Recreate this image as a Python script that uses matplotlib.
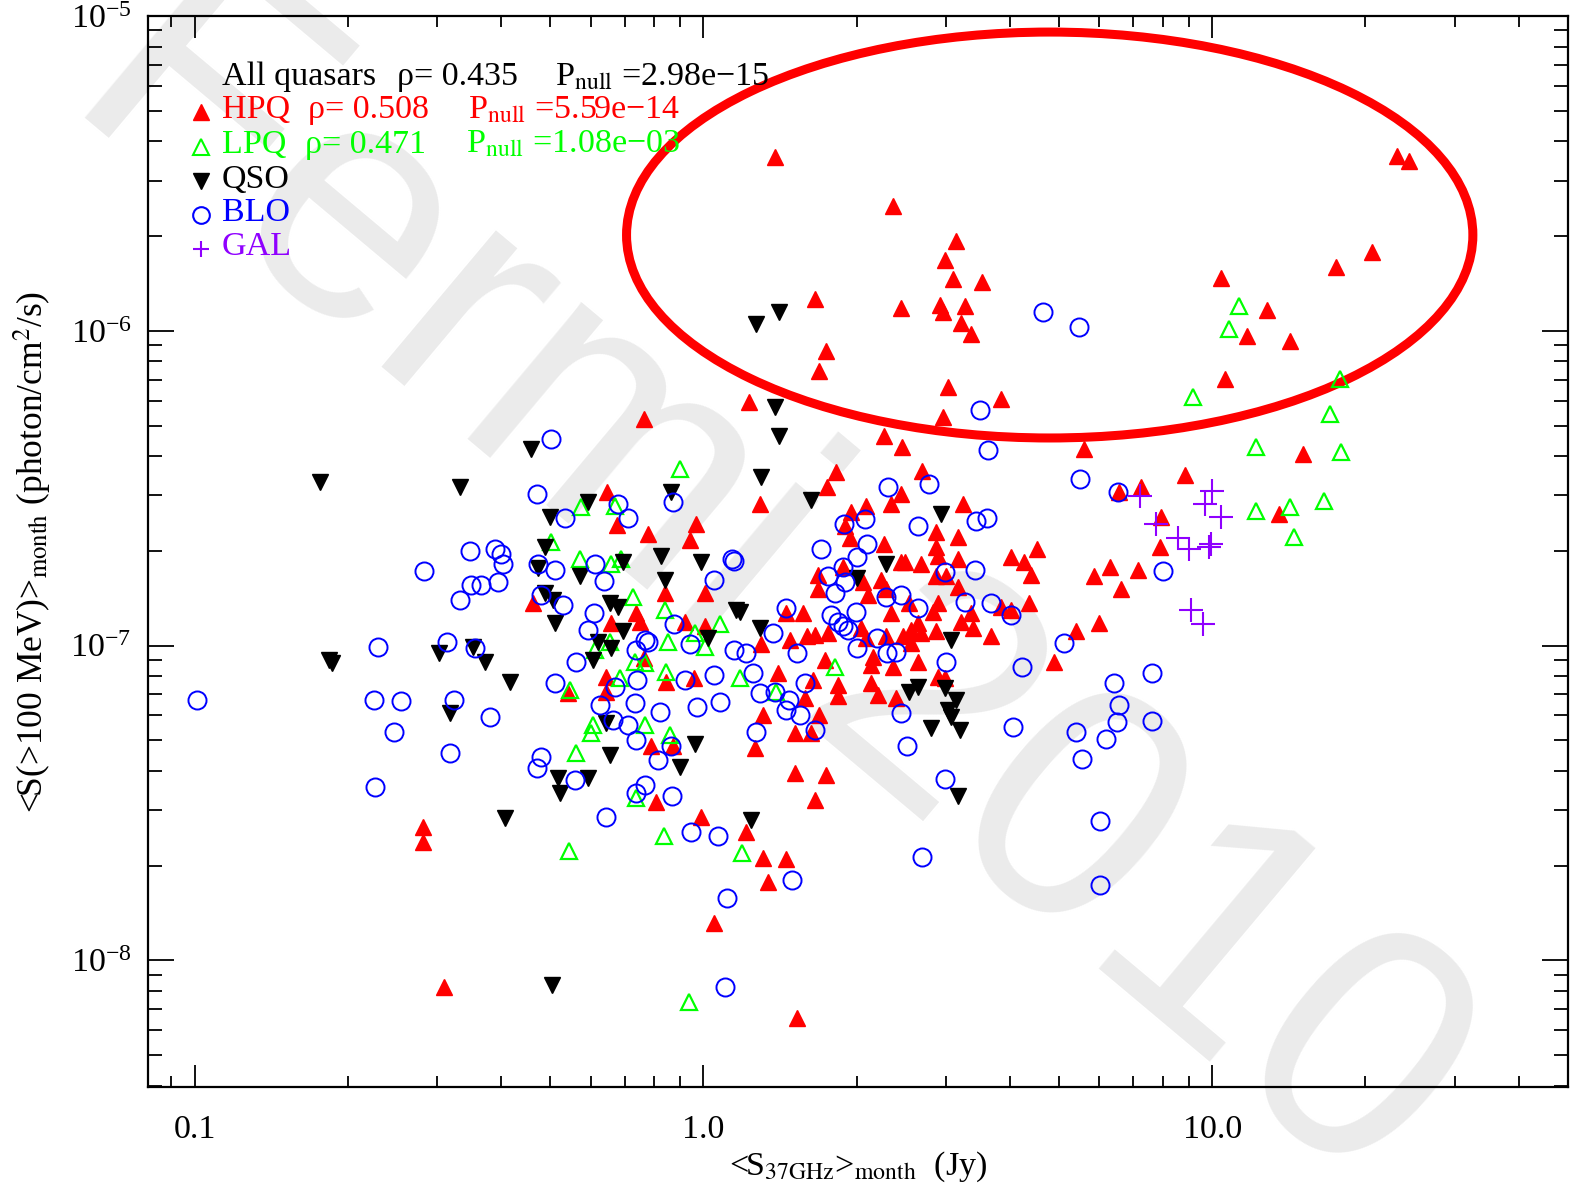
import matplotlib
matplotlib.use("Agg")
import matplotlib.pyplot as plt
from matplotlib.patches import Ellipse
from matplotlib.ticker import FixedLocator, FixedFormatter, LogLocator, NullFormatter

plt.rcParams['font.family'] = ['Liberation Serif', 'DejaVu Serif']
plt.rcParams['mathtext.fontset'] = 'stix'

# 37 GHz monthly flux density (Jy) vs monthly gamma flux >100 MeV (photon/cm^2/s)
hpq_s37 = [1.38, 23.1, 24.4, 2.36, 3.14, 2.98, 3.10, 3.52, 1.66, 2.44,
           2.92, 2.95, 3.26, 3.21, 3.36, 1.74, 1.69, 10.4, 17.5, 20.6,
           12.8, 11.7, 14.2, 10.6, 1.23, 0.763, 2.26, 2.46, 3.85, 2.95,
           3.03, 5.59, 15.1, 8.85, 7.24, 6.56, 7.93, 7.90, 5.85, 6.29,
           7.15, 6.61, 5.99, 13.5,
           1.82, 1.75, 1.29, 2.69, 2.45, 2.34, 3.24, 1.95, 2.09, 1.90,
           1.94, 2.87, 3.17, 2.26, 2.87, 2.89, 2.44, 2.49, 2.68, 3.17,
           4.02, 4.52, 4.26, 4.40, 1.68, 1.68, 1.88, 2.06, 2.11, 2.23,
           2.28, 2.87, 3.00, 3.17, 2.89, 2.83, 2.34, 2.53, 2.64, 2.56,
           2.68, 2.86, 3.21, 3.36, 3.39, 3.68, 4.36, 4.02, 3.84, 1.57,
           1.45, 1.48, 1.30, 1.60, 1.66, 1.76, 2.04, 2.09, 2.28, 2.47,
           2.56, 1.73, 2.15, 2.13, 2.36, 2.64, 1.40, 1.84, 1.84, 2.13,
           2.20, 2.39, 2.89, 2.99, 1.58, 1.64, 1.69, 1.31, 1.51, 1.63,
           4.88, 5.39,
           0.646, 0.676, 0.777, 0.969, 0.939, 0.839, 1.005, 0.463, 0.736, 0.749,
           0.658, 0.918, 1.009, 0.763, 0.643, 0.643, 0.843, 0.960, 0.542, 0.788,
           0.870, 0.806, 0.987,
           0.281, 0.281, 1.21, 1.31, 1.45, 1.34, 1.05, 1.51, 1.74, 1.66,
           1.26, 0.309, 1.53]
hpq_gamma = [3.56e-6, 3.59e-6, 3.46e-6, 2.49e-6, 1.93e-6, 1.68e-6, 1.46e-6, 1.43e-6, 1.26e-6, 1.18e-6,
             1.21e-6, 1.15e-6, 1.20e-6, 1.06e-6, 9.75e-7, 8.61e-7, 7.43e-7, 1.47e-6, 1.59e-6, 1.78e-6,
             1.16e-6, 9.61e-7, 9.26e-7, 7.01e-7, 5.93e-7, 5.23e-7, 4.62e-7, 4.26e-7, 6.06e-7, 5.31e-7,
             6.61e-7, 4.20e-7, 4.05e-7, 3.47e-7, 3.20e-7, 3.07e-7, 2.57e-7, 2.06e-7, 1.66e-7, 1.78e-7,
             1.74e-7, 1.51e-7, 1.18e-7, 2.61e-7,
             3.55e-7, 3.20e-7, 2.81e-7, 3.58e-7, 3.02e-7, 2.81e-7, 2.81e-7, 2.65e-7, 2.77e-7, 2.39e-7,
             2.20e-7, 2.29e-7, 2.22e-7, 2.10e-7, 2.05e-7, 1.92e-7, 1.84e-7, 1.84e-7, 1.81e-7, 1.88e-7,
             1.91e-7, 2.02e-7, 1.84e-7, 1.68e-7, 1.68e-7, 1.51e-7, 1.78e-7, 1.59e-7, 1.45e-7, 1.62e-7,
             1.51e-7, 1.66e-7, 1.66e-7, 1.54e-7, 1.37e-7, 1.28e-7, 1.27e-7, 1.37e-7, 1.18e-7, 1.12e-7,
             1.10e-7, 1.11e-7, 1.19e-7, 1.27e-7, 1.14e-7, 1.07e-7, 1.37e-7, 1.30e-7, 1.33e-7, 1.27e-7,
             1.27e-7, 1.04e-7, 1.01e-7, 1.07e-7, 1.08e-7, 1.10e-7, 1.14e-7, 1.06e-7, 1.07e-7, 1.07e-7,
             1.02e-7, 9.03e-8, 9.23e-8, 8.70e-8, 8.58e-8, 8.89e-8, 8.21e-8, 7.51e-8, 6.89e-8, 7.63e-8,
             6.99e-8, 6.83e-8, 7.97e-8, 7.91e-8, 6.83e-8, 7.80e-8, 6.03e-8, 6.03e-8, 5.29e-8, 5.29e-8,
             8.89e-8, 1.11e-7,
             3.07e-7, 2.41e-7, 2.27e-7, 2.44e-7, 2.17e-7, 1.47e-7, 1.47e-7, 1.37e-7, 1.27e-7, 1.19e-7,
             1.18e-7, 1.19e-7, 1.15e-7, 9.16e-8, 7.97e-8, 7.14e-8, 7.68e-8, 7.91e-8, 7.09e-8, 4.78e-8,
             4.78e-8, 3.19e-8, 2.86e-8,
             2.66e-8, 2.37e-8, 2.55e-8, 2.12e-8, 2.10e-8, 1.78e-8, 1.31e-8, 3.94e-8, 3.89e-8, 3.24e-8,
             4.74e-8, 8.25e-9, 6.56e-9]

lpq_s37 = [11.3, 10.8, 17.8, 9.17, 17.0, 12.2, 17.9, 16.6, 12.2, 14.2,
           14.5, 1.08, 1.81, 1.18, 1.39, 0.898, 0.575, 0.670, 0.502, 0.572,
           0.658, 0.688, 0.726, 0.839, 0.964, 1.005, 0.850, 0.655, 0.612, 0.733,
           0.766, 0.843, 0.685, 0.547, 0.606, 0.601, 0.766, 0.858, 0.562, 0.736,
           0.544, 0.835, 1.19, 0.935]
lpq_gamma = [1.20e-6, 1.01e-6, 7.01e-7, 6.15e-7, 5.43e-7, 4.27e-7, 4.11e-7, 2.87e-7, 2.67e-7, 2.75e-7,
             2.22e-7, 1.17e-7, 8.58e-8, 7.91e-8, 7.14e-8, 3.63e-7, 2.75e-7, 2.77e-7, 2.13e-7, 1.88e-7,
             1.81e-7, 1.88e-7, 1.43e-7, 1.30e-7, 1.10e-7, 9.93e-8, 1.03e-7, 1.03e-7, 9.71e-8, 8.89e-8,
             8.83e-8, 8.27e-8, 7.91e-8, 7.24e-8, 5.61e-8, 5.29e-8, 5.61e-8, 5.21e-8, 4.57e-8, 3.28e-8,
             2.22e-8, 2.48e-8, 2.20e-8, 7.38e-9]

qso_s37 = [1.27, 1.41, 1.38, 1.41, 0.176, 0.332, 0.459, 0.184, 0.186, 0.302,
           0.353, 0.373, 0.417, 0.318, 0.408, 0.593, 0.500, 0.862, 0.488, 0.473,
           0.572, 0.694, 0.824, 0.987, 0.839, 0.488, 0.506, 0.511, 0.655, 0.679,
           0.694, 0.620, 0.658, 0.606, 1.02, 0.643, 0.655, 0.964, 0.898, 0.518,
           0.593, 0.523, 1.16, 1.30, 1.63, 2.93, 2.28, 2.00, 1.18, 1.29,
           3.07, 2.53, 2.64, 2.98, 3.13, 3.03, 3.07, 2.80, 3.20, 1.24,
           3.16, 0.504]
qso_gamma = [1.05e-6, 1.15e-6, 5.71e-7, 4.62e-7, 3.30e-7, 3.20e-7, 4.20e-7, 9.03e-8, 8.83e-8, 9.50e-8,
             9.93e-8, 8.89e-8, 7.68e-8, 6.12e-8, 2.84e-8, 2.85e-7, 2.57e-7, 3.07e-7, 2.05e-7, 1.77e-7,
             1.66e-7, 1.84e-7, 1.92e-7, 1.84e-7, 1.62e-7, 1.47e-7, 1.40e-7, 1.18e-7, 1.37e-7, 1.33e-7,
             1.11e-7, 1.03e-7, 9.85e-8, 9.03e-8, 1.06e-7, 5.69e-8, 4.50e-8, 4.85e-8, 4.12e-8, 3.80e-8,
             3.80e-8, 3.41e-8, 1.30e-7, 3.42e-7, 2.91e-7, 2.61e-7, 1.81e-7, 1.64e-7, 1.28e-7, 1.14e-7,
             1.04e-7, 7.14e-8, 7.40e-8, 7.35e-8, 6.73e-8, 6.26e-8, 5.94e-8, 5.49e-8, 5.41e-8, 2.80e-8,
             3.33e-8, 8.37e-9]

blo_s37 = [4.64, 5.47, 3.49, 3.62, 0.502, 5.49, 6.53, 8.01, 5.11, 7.62,
           6.41, 6.56, 6.50, 7.62, 4.05, 5.39, 6.18, 5.54, 6.01, 6.01,
           2.31, 2.78, 1.89, 2.08, 2.64, 3.44, 3.60, 1.15, 1.70, 2.10,
           2.00, 1.88, 1.76, 1.90, 1.81, 2.99, 3.42, 2.28, 2.45, 2.64,
           3.27, 3.67, 4.02, 1.99, 1.45, 1.78, 1.84, 1.88, 1.92, 1.37,
           1.21, 1.53, 2.00, 2.19, 2.29, 2.39, 3.00, 4.22, 1.25, 1.29,
           1.38, 1.47, 1.45, 1.58, 1.55, 2.45, 1.27, 1.66, 0.471, 0.535,
           0.679, 0.710, 0.870, 0.348, 0.390, 0.401, 0.404, 0.283, 0.350, 0.366,
           0.395, 0.333, 0.473, 0.511, 0.612, 0.637, 0.480, 0.530, 0.609, 0.593,
           0.877, 0.766, 0.777, 0.736, 0.939, 1.05, 1.14, 1.15, 0.313, 0.356,
           0.562, 0.511, 0.670, 0.739, 0.922, 1.05, 0.626, 0.733, 0.820, 0.973,
           1.08, 0.323, 0.381, 0.664, 0.710, 0.736, 0.813, 0.862, 0.317, 0.480,
           0.471, 0.559, 0.766, 0.736, 0.866, 0.643, 0.101, 0.229, 0.225, 0.254,
           0.247, 0.226, 2.98, 2.69, 1.49, 1.11, 0.947, 1.07, 1.10, 2.51]
blo_gamma = [1.15e-6, 1.03e-6, 5.59e-7, 4.17e-7, 4.52e-7, 3.37e-7, 3.07e-7, 1.72e-7, 1.02e-7, 8.21e-8,
             7.63e-8, 6.49e-8, 5.73e-8, 5.78e-8, 5.53e-8, 5.33e-8, 5.06e-8, 4.37e-8, 2.78e-8, 1.73e-8,
             3.18e-7, 3.25e-7, 2.43e-7, 2.53e-7, 2.39e-7, 2.48e-7, 2.55e-7, 1.86e-7, 2.02e-7, 2.10e-7,
             1.91e-7, 1.78e-7, 1.66e-7, 1.59e-7, 1.47e-7, 1.71e-7, 1.74e-7, 1.43e-7, 1.45e-7, 1.32e-7,
             1.38e-7, 1.37e-7, 1.25e-7, 1.28e-7, 1.32e-7, 1.25e-7, 1.19e-7, 1.15e-7, 1.12e-7, 1.10e-7,
             9.50e-8, 9.50e-8, 9.85e-8, 1.06e-7, 9.50e-8, 9.57e-8, 8.89e-8, 8.58e-8, 8.21e-8, 7.09e-8,
             7.14e-8, 6.73e-8, 6.26e-8, 7.63e-8, 6.03e-8, 6.12e-8, 5.33e-8, 5.41e-8, 3.02e-7, 2.55e-7,
             2.81e-7, 2.55e-7, 2.85e-7, 1.99e-7, 2.02e-7, 1.95e-7, 1.81e-7, 1.72e-7, 1.56e-7, 1.56e-7,
             1.59e-7, 1.40e-7, 1.81e-7, 1.74e-7, 1.81e-7, 1.60e-7, 1.45e-7, 1.35e-7, 1.27e-7, 1.12e-7,
             1.17e-7, 1.04e-7, 1.03e-7, 9.71e-8, 1.01e-7, 1.62e-7, 1.88e-7, 9.71e-8, 1.03e-7, 9.85e-8,
             8.89e-8, 7.63e-8, 7.40e-8, 7.80e-8, 7.80e-8, 8.09e-8, 6.49e-8, 6.59e-8, 6.17e-8, 6.40e-8,
             6.63e-8, 6.73e-8, 5.94e-8, 5.82e-8, 5.61e-8, 5.03e-8, 4.34e-8, 4.78e-8, 4.57e-8, 4.44e-8,
             4.09e-8, 3.74e-8, 3.61e-8, 3.41e-8, 3.33e-8, 2.86e-8, 6.73e-8, 9.93e-8, 6.73e-8, 6.68e-8,
             5.33e-8, 3.56e-8, 3.77e-8, 2.13e-8, 1.80e-8, 1.58e-8, 2.55e-8, 2.48e-8, 8.25e-9, 4.78e-8]

gal_s37 = [7.21, 10.0, 9.69, 10.4, 7.75, 8.57, 9.01, 9.96, 9.87, 9.09, 9.60]
gal_gamma = [2.98e-7, 3.09e-7, 2.81e-7, 2.57e-7, 2.43e-7, 2.20e-7, 2.02e-7, 2.10e-7, 2.05e-7, 1.30e-7, 1.17e-7]

# correlation summary (Spearman rho and chance probability)
class_names = ['HPQ', 'LPQ', 'QSO', 'BLO', 'GAL']
class_colors = ['#ff0000', '#00ff00', '#000000', '#0000ff', '#8f00ff']
rho_all, pnull_all = '0.435', '2.98e\u221215'
rho_hpq, pnull_hpq = '0.508', '5.59e\u221214'
rho_lpq, pnull_lpq = '0.471', '1.08e\u221203'

x_ticks = [0.1, 1.0, 10.0]
x_ticklabels = ['0.1', '1.0', '10.0']

fig = plt.figure(figsize=(15.72, 11.90), dpi=100)
ax = fig.add_axes([148 / 1572, 1 - 1087 / 1190, 1420 / 1572, 1071 / 1190])
ax.set_facecolor('none')

# watermark behind the transparent axes
fig.text(0.040, 0.916, 'Fermi 2010', rotation=-40, rotation_mode='anchor',
         ha='left', va='baseline', fontsize=242, color='#ebebeb',
         family='Liberation Sans', zorder=-10)

ax.set_xscale('log')
ax.set_yscale('log')
ax.set_xlim(0.081, 50)
ax.set_ylim(3.96e-9, 1e-5)

ax.plot(hpq_s37, hpq_gamma, ls='none', marker='^', ms=11.5, mfc='#ff0000', mec='#ff0000', zorder=3)
ax.plot(lpq_s37, lpq_gamma, ls='none', marker='^', ms=12, mfc='none', mec='#00ff00', mew=1.6, zorder=3)
ax.plot(qso_s37, qso_gamma, ls='none', marker='v', ms=11.5, mfc='#000000', mec='#000000', zorder=3)
ax.plot(blo_s37, blo_gamma, ls='none', marker='o', ms=13, mfc='none', mec='#0000ff', mew=1.4, zorder=3)
ax.plot(gal_s37, gal_gamma, ls='none', marker='+', ms=17, mec='#8f00ff', mew=1.5, zorder=3)

# highlight of the brightest gamma-ray months
ax.add_patch(Ellipse((0.635, 0.7955), 0.596, 0.379, transform=ax.transAxes,
                     fill=False, ec='#ff0000', lw=6.5, zorder=2, clip_on=False))

# text legend with correlation coefficients
fs = 24.5
rows_y = [0.9430, 0.9120, 0.8800, 0.8475, 0.8160, 0.7845]
ax.text(0.0521, rows_y[0], 'All quasars', color='black', fontsize=fs, va='center', transform=ax.transAxes)
ax.text(0.1754, rows_y[0], '\u03c1= ' + rho_all, color='black', fontsize=fs, va='center', transform=ax.transAxes)
ax.text(0.2866, rows_y[0], r'P$_{\rm null}$ =' + pnull_all, color='black', fontsize=fs, va='center', transform=ax.transAxes)
ax.text(0.1127, rows_y[1], '\u03c1= ' + rho_hpq, color='#ff0000', fontsize=fs, va='center', transform=ax.transAxes)
ax.text(0.2254, rows_y[1], r'P$_{\rm null}$ =' + pnull_hpq, color='#ff0000', fontsize=fs, va='center', transform=ax.transAxes)
ax.text(0.1106, rows_y[2], '\u03c1= ' + rho_lpq, color='#00ff00', fontsize=fs, va='center', transform=ax.transAxes)
ax.text(0.2240, rows_y[2], r'P$_{\rm null}$ =' + pnull_lpq, color='#00ff00', fontsize=fs, va='center', transform=ax.transAxes)

legend_markers = [dict(marker='^', mfc='#ff0000', mec='#ff0000', mew=1),
                  dict(marker='^', mfc='none', mec='#00ff00', mew=1.5),
                  dict(marker='v', mfc='#000000', mec='#000000', mew=1),
                  dict(marker='o', mfc='none', mec='#0000ff', mew=1.5),
                  dict(marker='+', mec='#8f00ff', mew=1.5)]
for i, (name, col, mk) in enumerate(zip(class_names, class_colors, legend_markers)):
    y = rows_y[i + 1]
    ax.plot([0.0373], [y - 0.002], ls='none', ms=12, transform=ax.transAxes, clip_on=False, **mk)
    ax.text(0.0521, y, name, color=col, fontsize=fs, va='center', transform=ax.transAxes)

ax.xaxis.set_major_locator(FixedLocator(x_ticks))
ax.xaxis.set_major_formatter(FixedFormatter(x_ticklabels))
ax.xaxis.set_minor_locator(LogLocator(base=10, subs=range(2, 10), numticks=20))
ax.xaxis.set_minor_formatter(NullFormatter())
ax.yaxis.set_major_locator(LogLocator(base=10, numticks=10))
ax.yaxis.set_minor_locator(LogLocator(base=10, subs=range(2, 10), numticks=20))
ax.yaxis.set_minor_formatter(NullFormatter())

ax.tick_params(axis='both', which='both', direction='in', top=True, right=True, width=1.3, labelsize=fs)
ax.tick_params(axis='x', which='major', length=16, pad=20)
ax.tick_params(axis='x', which='minor', length=8)
ax.tick_params(axis='y', which='major', length=19, pad=12)
ax.tick_params(axis='y', which='minor', length=10)
for sp in ax.spines.values():
    sp.set_linewidth(1.6)

ax.set_xlabel(r'<S$_{\rm 37GHz}$>$_{\rm month}$  (Jy)', fontsize=fs)
ax.set_ylabel(r'<S(>100 MeV)>$_{\rm month}$ (photon/cm$^{2}$/s)', fontsize=25.5)
ax.xaxis.set_label_coords(0.5, -0.058)
ax.yaxis.set_label_coords(-0.066, 0.5)

fig.savefig('out.png', dpi=100)
